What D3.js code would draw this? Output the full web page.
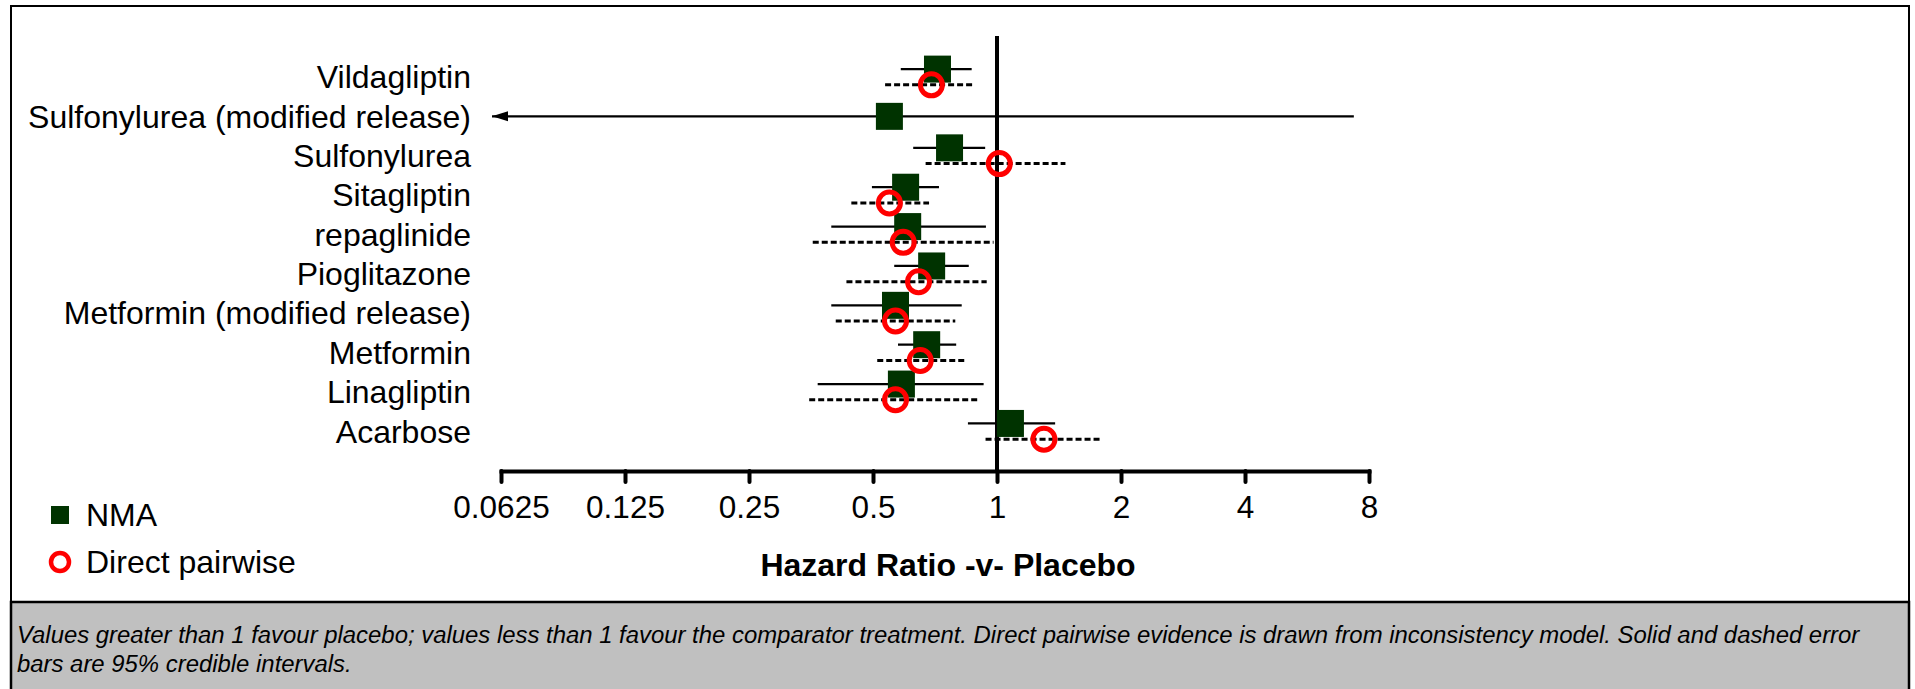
<!DOCTYPE html>
<html>
<head>
<meta charset="utf-8">
<script src="https://cdn.jsdelivr.net/npm/d3@7"></script>
<style>
  html, body { margin: 0; padding: 0; background: #fff; }
  svg { display: block; font-family: "Liberation Sans", Arial, sans-serif; }
</style>
</head>
<body>
<div id="chart"></div>
<script>
// ---- Data ----
const categories = [
  "Vildagliptin",
  "Sulfonylurea (modified release)",
  "Sulfonylurea",
  "Sitagliptin",
  "repaglinide",
  "Pioglitazone",
  "Metformin (modified release)",
  "Metformin",
  "Linagliptin",
  "Acarbose"
];
// NMA hazard ratios with 95% credible intervals
const nmaEst  = [0.717, 0.548, 0.767, 0.600, 0.607, 0.694, 0.567, 0.675, 0.586, 1.078];
const nmaLow  = [0.584, 0.030, 0.626, 0.497, 0.396, 0.563, 0.396, 0.575, 0.367, 0.850];
const nmaHigh = [0.868, 7.35,  0.936, 0.723, 0.940, 0.854, 0.821, 0.796, 0.928, 1.384];
// Direct pairwise hazard ratios with 95% credible intervals (null = not available)
const directEst  = [0.693, null, 1.013, 0.548, 0.592, 0.645, 0.567, 0.651, 0.567, 1.300];
const directLow  = [0.535, null, 0.671, 0.443, 0.357, 0.431, 0.406, 0.512, 0.350, 0.938];
const directHigh = [0.876, null, 1.466, 0.684, 0.981, 0.944, 0.792, 0.841, 0.908, 1.800];

const tickValues = [0.0625, 0.125, 0.25, 0.5, 1, 2, 4, 8];
const tickLabels = ["0.0625", "0.125", "0.25", "0.5", "1", "2", "4", "8"];

const legendLabels = ["NMA", "Direct pairwise"];
const axisTitle = "Hazard Ratio -v- Placebo";
const footnoteLines = [
  "Values greater than 1 favour placebo; values less than 1 favour the comparator treatment. Direct pairwise evidence is drawn from inconsistency model. Solid and dashed error",
  "bars are 95% credible intervals."
];

// ---- Layout ----
const W = 1915, H = 689;
const NMA_COLOR = "#003300", DIRECT_COLOR = "#ff0000";
const FONT = 32;

const rows = categories.map((c, i) => ({
  name: c,
  nma: { est: nmaEst[i], lo: nmaLow[i], hi: nmaHigh[i] },
  direct: directEst[i] == null ? null : { est: directEst[i], lo: directLow[i], hi: directHigh[i] }
}));

const svg = d3.select("#chart").append("svg")
  .attr("width", W).attr("height", H);

// footnote box
svg.append("rect")
  .attr("x", 11).attr("y", 602).attr("width", 1898).attr("height", 100)
  .attr("fill", "#c0c0c0").attr("stroke", "#000").attr("stroke-width", 2.5);
// outer frame
svg.append("rect")
  .attr("x", 11).attr("y", 6).attr("width", 1898).attr("height", 700)
  .attr("fill", "none").attr("stroke", "#000").attr("stroke-width", 2);

const x = d3.scaleLog().base(2).domain([tickValues[0], tickValues[tickValues.length - 1]]).range([501, 1369]);
const y = d3.scaleBand().domain(categories).range([57.3, 451]).padding(0);
const bw = y.bandwidth();
const off = bw * 0.2;
const axisY = 471;

// reference line at HR = 1
svg.append("line")
  .attr("x1", x(1)).attr("x2", x(1))
  .attr("y1", 36).attr("y2", axisY)
  .attr("stroke", "#000").attr("stroke-width", 4);

// arrow marker for intervals running off the axis
const defs = svg.append("defs");
defs.append("marker")
  .attr("id", "arrowL")
  .attr("viewBox", "0 0 16 12")
  .attr("refX", 0).attr("refY", 6)
  .attr("markerWidth", 16).attr("markerHeight", 12)
  .attr("markerUnits", "userSpaceOnUse")
  .attr("orient", "auto")
  .append("path").attr("d", "M0,6L16,1L16,11Z").attr("fill", "#000");

// category labels
svg.append("g").selectAll("text").data(rows).join("text")
  .attr("x", 471)
  .attr("y", d => y(d.name) + bw / 2)
  .attr("dy", "0.35em")
  .attr("text-anchor", "end")
  .attr("font-size", FONT)
  .attr("fill", "#000")
  .text(d => d.name);

const xmin = x.domain()[0];
const g = svg.append("g");

// NMA interval lines (solid)
g.selectAll("line.nma").data(rows).join("line")
  .attr("class", "nma")
  .attr("x1", d => d.nma.lo < xmin ? x(xmin) - 9 : x(d.nma.lo))
  .attr("x2", d => x(d.nma.hi))
  .attr("y1", d => y(d.name) + bw / 2 - (d.direct ? off : 0))
  .attr("y2", d => y(d.name) + bw / 2 - (d.direct ? off : 0))
  .attr("stroke", "#000").attr("stroke-width", 2.2)
  .attr("marker-start", d => d.nma.lo < xmin ? "url(#arrowL)" : null);

// Direct interval lines (dashed)
const dRows = rows.filter(d => d.direct);
g.selectAll("line.dir").data(dRows).join("line")
  .attr("class", "dir")
  .attr("x1", d => x(d.direct.lo))
  .attr("x2", d => x(d.direct.hi))
  .attr("y1", d => y(d.name) + bw / 2 + off)
  .attr("y2", d => y(d.name) + bw / 2 + off)
  .attr("stroke", "#000").attr("stroke-width", 3)
  .attr("stroke-dasharray", "6,3");

// NMA squares
const SQ = 27;
g.selectAll("rect.nma").data(rows).join("rect")
  .attr("class", "nma")
  .attr("x", d => x(d.nma.est) - SQ / 2)
  .attr("y", d => y(d.name) + bw / 2 - (d.direct ? off : 0) - SQ / 2)
  .attr("width", SQ).attr("height", SQ)
  .attr("fill", NMA_COLOR);

// Direct circles
g.selectAll("circle.dir").data(dRows).join("circle")
  .attr("class", "dir")
  .attr("cx", d => x(d.direct.est))
  .attr("cy", d => y(d.name) + bw / 2 + off)
  .attr("r", 11)
  .attr("fill", "none")
  .attr("stroke", DIRECT_COLOR).attr("stroke-width", 5);

// x axis
const axis = d3.axisBottom(x)
  .tickValues(tickValues)
  .tickFormat((d, i) => tickLabels[i])
  .tickSizeInner(11).tickSizeOuter(0).tickPadding(14);
const ax = svg.append("g").attr("transform", `translate(0,${axisY})`).call(axis);
ax.select(".domain").attr("stroke", "#000").attr("stroke-width", 4).attr("stroke-linecap", "square");
ax.selectAll(".tick line").attr("stroke", "#000").attr("stroke-width", 4).attr("stroke-linecap", "round");
ax.selectAll(".tick text")
  .attr("font-size", 31.5)
  .attr("font-family", "'Liberation Sans', Arial, sans-serif")
  .attr("fill", "#000");

// axis title
svg.append("text")
  .attr("x", 948).attr("y", 576)
  .attr("text-anchor", "middle")
  .attr("font-size", FONT).attr("font-weight", "bold")
  .text(axisTitle);

// legend
const lg = svg.append("g");
lg.append("rect")
  .attr("x", 51).attr("y", 506).attr("width", 18).attr("height", 18)
  .attr("fill", NMA_COLOR);
lg.append("circle")
  .attr("cx", 60).attr("cy", 562).attr("r", 9)
  .attr("fill", "none").attr("stroke", DIRECT_COLOR).attr("stroke-width", 4.5);
lg.selectAll("text").data(legendLabels).join("text")
  .attr("x", 86)
  .attr("y", (d, i) => 515 + i * 47)
  .attr("dy", "0.35em")
  .attr("font-size", FONT)
  .text(d => d);

// footnote
svg.append("g").selectAll("text").data(footnoteLines).join("text")
  .attr("x", 17)
  .attr("y", (d, i) => 643 + i * 29)
  .attr("font-size", 23.9)
  .attr("font-style", "italic")
  .attr("fill", "#000")
  .text(d => d);
</script>
</body>
</html>
